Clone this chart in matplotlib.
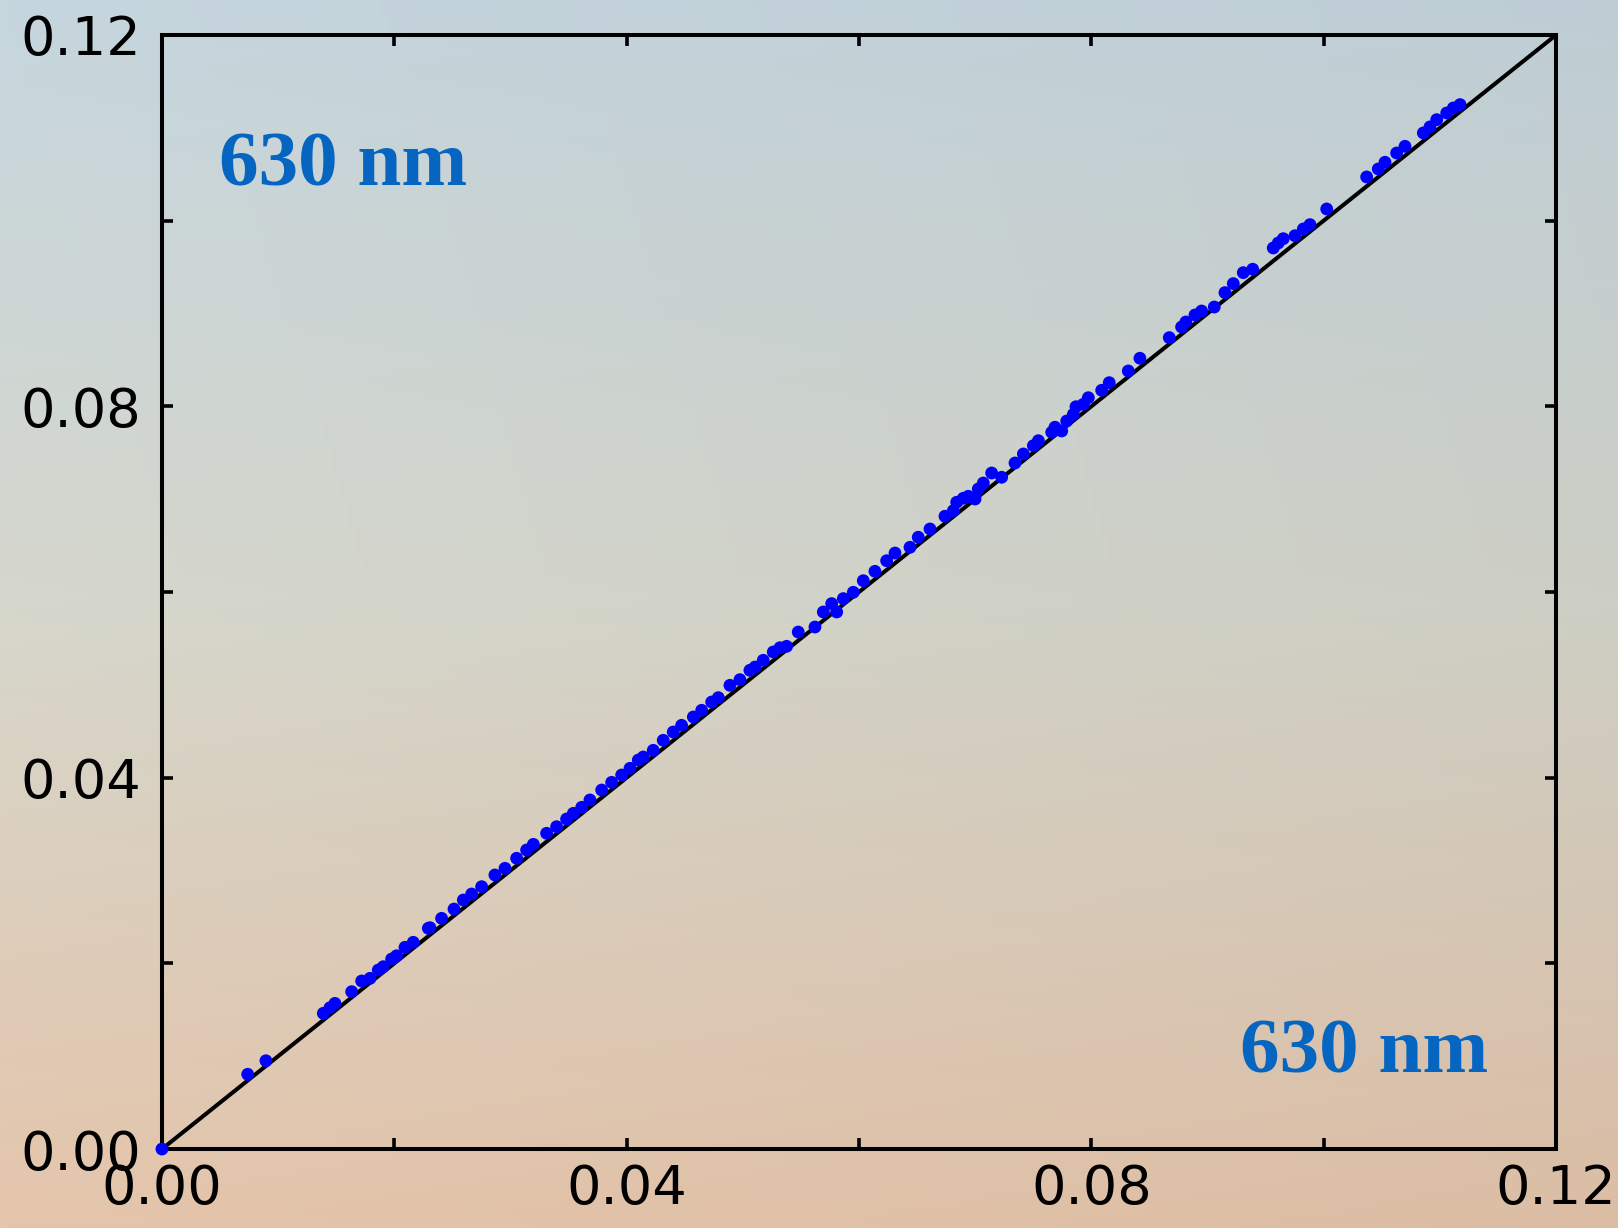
import numpy as np
import matplotlib.pyplot as plt
from matplotlib.ticker import MultipleLocator, FormatStrFormatter

x_vals = [0.0, 0.00738, 0.00895, 0.01389, 0.01446, 0.01489, 0.01633, 0.01719, 0.01791,
          0.01862, 0.01905, 0.01977, 0.02020, 0.02092, 0.02163, 0.02293, 0.02307, 0.02407,
          0.02514, 0.02594, 0.02666, 0.02752, 0.02866, 0.02953, 0.03053, 0.03139, 0.03197,
          0.03311, 0.03397, 0.03483, 0.03541, 0.03613, 0.03684, 0.03785, 0.03871, 0.03957,
          0.04029, 0.04100, 0.04143, 0.04229, 0.04315, 0.04401, 0.04473, 0.04574, 0.04646,
          0.04732, 0.04789, 0.04889, 0.04975, 0.05061, 0.05105, 0.05176, 0.05262, 0.05320,
          0.05377, 0.05477, 0.05621, 0.05693, 0.05765, 0.05808, 0.05865, 0.05951, 0.06037,
          0.06137, 0.06238, 0.06310, 0.06439, 0.06510, 0.06611, 0.06740, 0.06812, 0.06841,
          0.06898, 0.06941, 0.06999, 0.07027, 0.07070, 0.07142, 0.07228, 0.07343, 0.07415,
          0.07501, 0.07544, 0.07659, 0.07687, 0.07745, 0.07788, 0.07845, 0.07868, 0.07931,
          0.07974, 0.08089, 0.08154, 0.08318, 0.08418, 0.08671, 0.08777, 0.08814, 0.08892,
          0.08949, 0.09058, 0.09150, 0.09222, 0.09308, 0.09389, 0.09566, 0.09609, 0.09652,
          0.09753, 0.09825, 0.09882, 0.10026, 0.10370, 0.10470, 0.10528, 0.10628, 0.10700,
          0.10858, 0.10915, 0.10973, 0.11059, 0.11116, 0.11174]
y_vals = [0.0, 0.00805, 0.00951, 0.01462, 0.01522, 0.01569, 0.01695, 0.01810, 0.01839,
          0.01928, 0.01964, 0.02047, 0.02082, 0.02173, 0.02227, 0.02378, 0.02384, 0.02485,
          0.02585, 0.02682, 0.02747, 0.02826, 0.02952, 0.03024, 0.03132, 0.03221, 0.03282,
          0.03401, 0.03472, 0.03555, 0.03616, 0.03681, 0.03760, 0.03867, 0.03950, 0.04029,
          0.04101, 0.04190, 0.04223, 0.04295, 0.04403, 0.04492, 0.04564, 0.04654, 0.04726,
          0.04815, 0.04862, 0.04995, 0.05056, 0.05157, 0.05192, 0.05265, 0.05354, 0.05400,
          0.05415, 0.05569, 0.05623, 0.05785, 0.05875, 0.05785, 0.05929, 0.05997, 0.06122,
          0.06223, 0.06337, 0.06420, 0.06482, 0.06590, 0.06679, 0.06816, 0.06876, 0.06967,
          0.07010, 0.07031, 0.07002, 0.07110, 0.07174, 0.07282, 0.07236, 0.07390, 0.07487,
          0.07576, 0.07630, 0.07721, 0.07775, 0.07735, 0.07842, 0.07914, 0.07996, 0.08022,
          0.08093, 0.08173, 0.08255, 0.08381, 0.08518, 0.08740, 0.08855, 0.08909, 0.08984,
          0.09027, 0.09070, 0.09225, 0.09322, 0.09440, 0.09477, 0.09706, 0.09760, 0.09806,
          0.09838, 0.09911, 0.09957, 0.10126, 0.10471, 0.10557, 0.10629, 0.10729, 0.10801,
          0.10945, 0.11010, 0.11088, 0.11160, 0.11214, 0.11250]

# 1:1 reference line
line_x = [0.0, 0.12]
line_y = [0.0, 0.12]

label_text = "630 nm"

fig = plt.figure(figsize=(16.18, 12.28), dpi=100)

# background gradient (blue-grey on top, peach at the bottom)
bg = fig.add_axes([0, 0, 1, 1], zorder=0)
stops = np.array([[198, 214, 222], [214, 215, 204], [229, 197, 171]]) / 255.0
t = np.linspace(0, 1, 300)
cols = np.empty((300, 3))
for c in range(3):
    cols[:, c] = np.interp(t, [0, 0.5, 1], stops[:, c])
shade = np.linspace(1.0, 0.96, 200)
img = cols[:, None, :] * shade[None, :, None]
bg.imshow(img, aspect='auto', extent=[0, 1, 0, 1], origin='upper')
bg.axis('off')

ax = fig.add_axes([0.1001, 0.0643, 0.8616, 0.9072], zorder=1)
ax.patch.set_alpha(0)

ax.plot(line_x, line_y, color='black', lw=2.9, zorder=2)
ax.scatter(x_vals, y_vals, s=85, color='#0000ff', edgecolors='none', zorder=3, clip_on=False)

ax.set_xlim(0, 0.12)
ax.set_ylim(0, 0.12)
ax.xaxis.set_major_locator(MultipleLocator(0.04))
ax.xaxis.set_minor_locator(MultipleLocator(0.02))
ax.yaxis.set_major_locator(MultipleLocator(0.04))
ax.yaxis.set_minor_locator(MultipleLocator(0.02))
ax.xaxis.set_major_formatter(FormatStrFormatter('%.2f'))
ax.yaxis.set_major_formatter(FormatStrFormatter('%.2f'))

for s in ax.spines.values():
    s.set_linewidth(2.9)
ax.tick_params(which='both', direction='in', top=True, right=True,
               length=8, width=2.6, labelsize=39)
ax.tick_params(axis='x', pad=10)
ax.tick_params(axis='y', pad=15)

ax.text(0.041, 0.865, label_text, transform=ax.transAxes, fontsize=57,
        fontfamily='Liberation Serif', fontweight='bold', color='#0565c0',
        ha='left', va='baseline')
ax.text(0.773, 0.069, label_text, transform=ax.transAxes, fontsize=57,
        fontfamily='Liberation Serif', fontweight='bold', color='#0565c0',
        ha='left', va='baseline')

fig.savefig('out.png', dpi=100)
